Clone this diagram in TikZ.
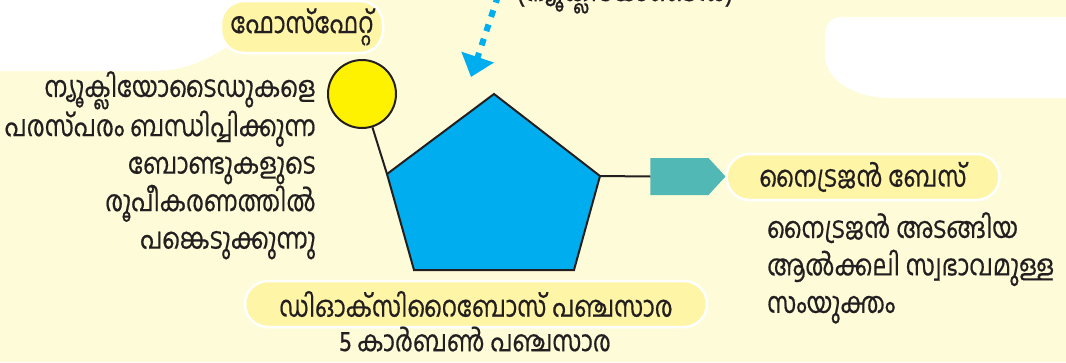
\documentclass[tikz,border=0pt]{standalone}
\usepackage{fontspec}
\newfontfamily\ml[Script=Malayalam, FakeStretch=0.83, FakeBold=0.5]{Hind Kochi}
\usetikzlibrary{arrows.meta,shapes.symbols}
\definecolor{bgyellow}{HTML}{FEFCD8}
\definecolor{pillfill}{HTML}{FFF5A6}
\definecolor{txt}{HTML}{231F20}
\definecolor{phyellow}{HTML}{FFF200}
\definecolor{sugarblue}{HTML}{00AEEF}
\definecolor{teal}{HTML}{52B8B5}
\tikzset{
  mltext/.style={font=\ml\fontsize{29}{37.5}\selectfont, text=txt, inner sep=0pt},
  pill/.style={mltext, fill=pillfill, draw=white, line width=2.5pt, rounded corners=23pt},
  outline/.style={draw=txt, line width=2pt},
}
\begin{document}
\begin{tikzpicture}[x=1pt,y=-1pt]
\useasboundingbox (0,0) rectangle (1066,362);
\fill[bgyellow] (0,0) rectangle (1066,362);
% white background areas
\fill[white] (0,0) -- (262,0) -- (262,40) -- (232,44) .. controls (200,64) and (180,71) .. (150,71) -- (0,71) -- cycle;
\fill[white] (1066,17) -- (841,17) .. controls (832,17) and (825,24) .. (825,33) -- (825,55)
  .. controls (825,82) and (858,98) .. (890,98) -- (1066,98) -- cycle;
% clipped top label
\node[mltext, anchor=base] (toplabel) at (625,1) {(ന്യൂക്ലിയോടൈഡ്)};
% dotted arrow
\coordinate (dstart) at (498,-4);
\coordinate (dend) at (471,77);
\draw[sugarblue, line width=6pt, dash pattern=on 7pt off 8pt,
  -{Triangle[length=21pt 0 0, width=33pt 0 0]}] (dstart) -- (dend);
% pentagon
\coordinate (p1) at (494,94);
\coordinate (p2) at (600,176);
\coordinate (p3) at (574,270);
\coordinate (p4) at (414,270);
\coordinate (p5) at (387,174);
\filldraw[fill=sugarblue, outline, line join=miter] (p1) -- (p2) -- (p3) -- (p4) -- (p5) -- cycle;
% phosphate
\node[circle, fill=phyellow, outline, minimum size=68pt, inner sep=0pt] (ph) at (362,94) {};
\draw[outline] (ph) -- (p5);
% base
\node[signal, signal to=east, signal pointer angle=95, fill=teal, minimum width=75pt, minimum height=37pt, inner sep=0pt, outer sep=0pt] (base) at (679.5,176.5) {};
\draw[outline] (p2) -- (base.west);
% labels
\node[pill, minimum width=162pt, minimum height=52pt] (phlabel) at (302,27) {ഫോസ്ഫേറ്റ്};
\node[pill, minimum width=273pt, minimum height=46pt] (baselabel) at (863,177) {നൈട്രജൻ ബേസ്};
\node[pill, minimum width=462pt, minimum height=46pt] (sugarlabel) at (476,304) {ഡിഓക്സിറൈബോസ് പഞ്ചസാര};
\node[mltext] (carbon) at (475,339) {5 കാർബൺ പഞ്ചസാര};
\node[mltext, align=right, anchor=north east] (phdesc) at (316,71) {ന്യൂക്ലിയോടൈഡുകളെ\\പരസ്പരം ബന്ധിപ്പിക്കുന്ന\\ബോണ്ടുകളുടെ\\രൂപീകരണത്തിൽ\\പങ്കെടുക്കുന്നു};
\node[mltext, align=left, anchor=north west] (basedesc) at (767,212) {നൈട്രജൻ അടങ്ങിയ\\ആൽക്കലി സ്വഭാവമുള്ള\\സംയുക്തം};
\end{tikzpicture}
\end{document}
